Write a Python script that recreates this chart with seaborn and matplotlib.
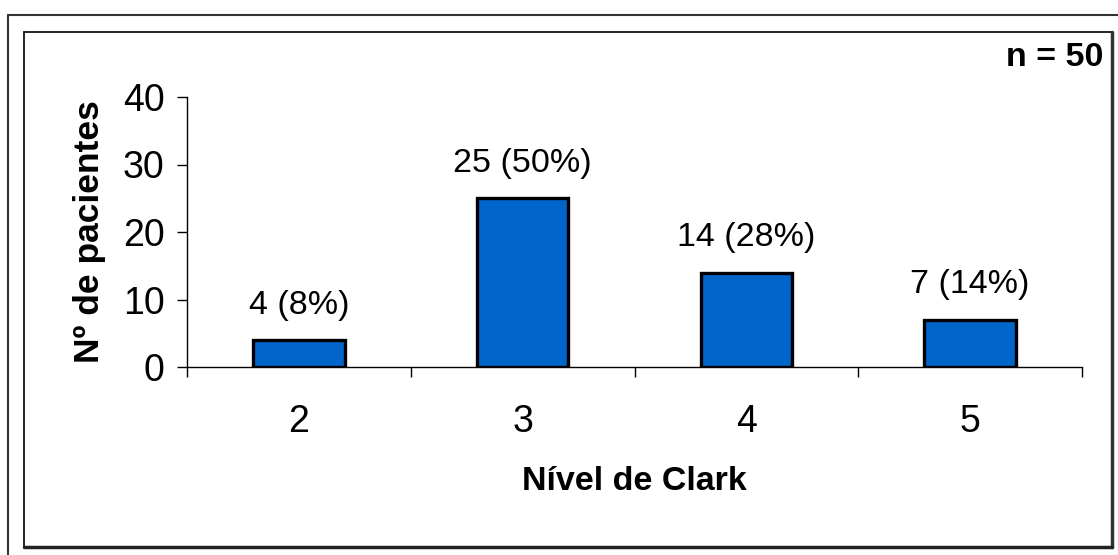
import matplotlib
matplotlib.use("Agg")
import matplotlib.pyplot as plt
import seaborn as sns
import pandas as pd
from matplotlib.lines import Line2D

categories = ["2", "3", "4", "5"]
counts = [4, 25, 14, 7]
bar_labels = ["4 (8%)", "25 (50%)", "14 (28%)", "7 (14%)"]
yticks = [0, 10, 20, 30, 40]

sns.set_theme(style="white")
plt.rcParams['font.family'] = ['Liberation Sans', 'DejaVu Sans']
plt.rcParams['text.color'] = 'black'
plt.rcParams['axes.labelcolor'] = 'black'
plt.rcParams['xtick.color'] = 'black'
plt.rcParams['ytick.color'] = 'black'

W, H = 1118, 555
fig = plt.figure(figsize=(W / 100, H / 100), dpi=100)
ax = fig.add_axes([187 / W, 1 - 367 / H, (1082 - 187) / W, (367 - 97) / H])

df = pd.DataFrame({"cat": categories, "n": counts})
sns.barplot(data=df, x="cat", y="n", ax=ax, color="#0066CC", saturation=1,
            width=0.41, edgecolor="black", linewidth=2.4)

ax.set_ylim(0, 40)
ax.set_xlim(-0.5, 3.5)
ax.set_yticks(yticks)
ax.set_yticklabels([str(v) for v in yticks], fontsize=27)
ax.tick_params(axis="y", which="major", length=7, width=1, color="black",
               direction="out", pad=9, left=True, labelcolor="black")
ax.tick_params(axis="x", which="major", length=0, pad=27, labelsize=27,
               labelcolor="black")
ax.set_xticks(range(len(categories)))
ax.set_xticklabels(categories)
ax.set_xticks([i - 0.5 for i in range(len(categories) + 1)], minor=True)
ax.tick_params(axis="x", which="minor", length=7, width=1, color="black",
               direction="out", bottom=True)

for s in ["top", "right"]:
    ax.spines[s].set_visible(False)
for s in ["left", "bottom"]:
    ax.spines[s].set_color("black")
    ax.spines[s].set_linewidth(1)

for i, (v, lab) in enumerate(zip(counts, bar_labels)):
    ax.annotate(lab, (i, v), xytext=(0, 14), textcoords="offset points",
                ha="center", va="bottom", fontsize=24.5, color="black")

ax.set_xlabel("Nível de Clark", fontsize=24.5, fontweight="bold", labelpad=18,
              color="black")
ax.set_ylabel("Nº de pacientes", fontsize=25.5, fontweight="bold", labelpad=12,
              color="black")

fig.text(1103 / W, 1 - 57 / H, "n = 50", ha="right", va="center",
         fontsize=24.5, fontweight="bold", color="black")

fig.add_artist(Line2D([8 / W, 1], [1 - 15 / H, 1 - 15 / H], color="#333333", lw=1.5,
                      transform=fig.transFigure))
fig.add_artist(Line2D([8 / W, 8 / W], [1 - 15 / H, 0], color="#333333", lw=1.5,
                      transform=fig.transFigure))
x0, x1, y0, y1 = 24, 1112, 32, 547
fig.add_artist(Line2D([x0 / W, x1 / W], [1 - y0 / H, 1 - y0 / H], color="black", lw=1.2,
                      transform=fig.transFigure))
fig.add_artist(Line2D([x0 / W, x0 / W], [1 - y0 / H, 1 - y1 / H], color="black", lw=1.2,
                      transform=fig.transFigure))
fig.add_artist(Line2D([x1 / W, x1 / W], [1 - y0 / H, 1 - y1 / H], color="#333333", lw=2.5,
                      transform=fig.transFigure))
fig.add_artist(Line2D([x0 / W, x1 / W], [1 - y1 / H, 1 - y1 / H], color="#222222", lw=2.5,
                      transform=fig.transFigure))

fig.savefig("out.png", dpi=100, facecolor="white")
